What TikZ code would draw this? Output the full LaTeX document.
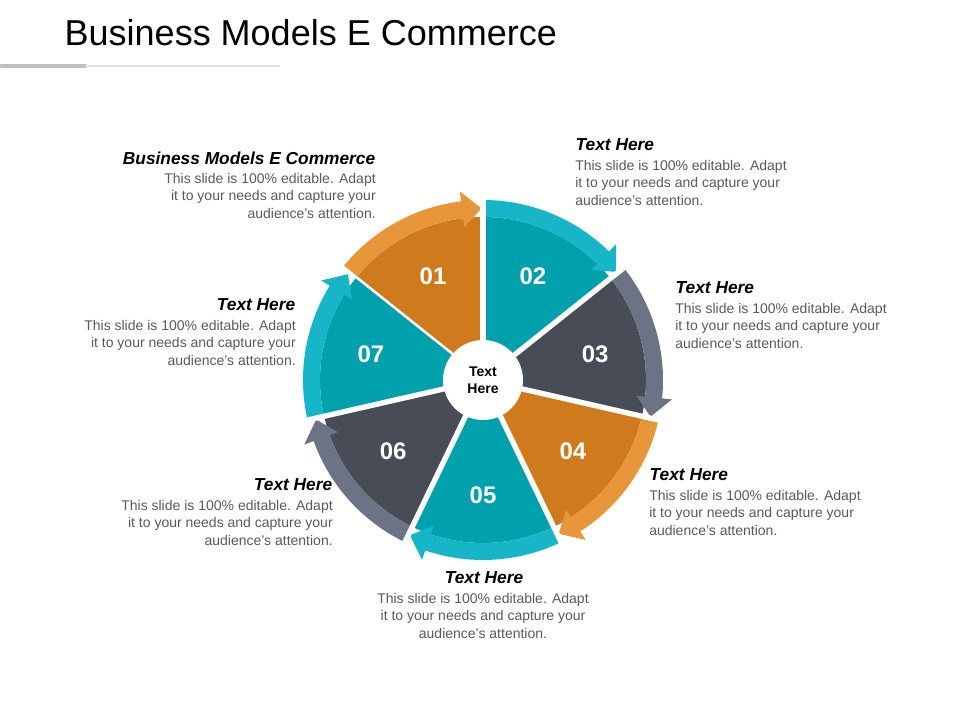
\documentclass[tikz,border=0pt]{standalone}
\usepackage{fontspec}
\setmainfont{Liberation Sans}
\usepackage{xcolor}
\definecolor{orwedge}{HTML}{D07A1E}
\definecolor{orband}{HTML}{E8963A}
\definecolor{tlwedge}{HTML}{00A0AC}
\definecolor{tlband}{HTML}{17B5C8}
\definecolor{dkwedge}{HTML}{474C56}
\definecolor{dkband}{HTML}{6B7385}
\definecolor{bodygray}{HTML}{595959}
\tikzset{
  head/.style={font=\fontsize{13}{15}\selectfont\bfseries\itshape},
  body/.style={font=\fontsize{10.5}{13.1}\selectfont, text=bodygray, inner sep=0pt},
  num/.style={font=\fontsize{18}{20}\selectfont\bfseries, text=white}
}
\begin{document}
\begin{tikzpicture}[x=0.75pt,y=0.75pt]
    \useasboundingbox (0,0) rectangle (960,720);
    \node[anchor=west, font=\fontsize{27}{30}\selectfont] (title) at (60,687) {Business Models E Commerce};
    \draw[line width=3.5pt, gray!50, line cap=round] (2,654) -- (85,654);
    \draw[line width=1.2pt, gray!25] (85,654) -- (280,654);
    \begin{scope}[shift={(483,340)}]
      \foreach \i/\wc/\bc in {1/orwedge/orband,2/tlwedge/tlband,3/dkwedge/dkband,4/orwedge/orband,5/tlwedge/tlband,6/dkwedge/dkband,7/tlwedge/tlband}{
        \pgfmathsetmacro\a{90+51.43*(2-\i)}
        \pgfmathsetmacro\b{\a-51.43}
        \pgfmathsetmacro\m{\a-25.7}
        \fill[\wc] (\a:40) -- (\a:163) arc (\a:\b:163) -- (\b:40) -- cycle;
        \fill[\bc] (\a-0.5:163) arc (\a-0.5:\b+7:163) -- (\b+7:154) -- (\b+0.5:171.5) -- (\b+7:190) -- (\b+7:180) arc (\b+7:\a-0.5:180) -- cycle;
        \draw[white, line width=4pt] (\a:30) -- (\a:200);
        \node[num] (n\i) at (\m:115) {0\i};
      }
      \fill[white] (0,0) circle (40);
      \node[font=\fontsize{10.5}{12.5}\selectfont\bfseries, align=center] (hub) at (0,0) {Text\\Here};
    \end{scope}
    \node[head, anchor=east] (h1) at (380,562) {Business Models E Commerce};
    \node[body, anchor=north east, align=right] (b1) at (376,547) {This slide is 100\% editable. Adapt\\it to your needs and capture your\\audience's attention.};
    \node[head, anchor=west] (h2) at (571,575) {Text Here};
    \node[body, anchor=north west, align=left] (b2) at (575,560) {This slide is 100\% editable. Adapt\\it to your needs and capture your\\audience's attention.};
    \node[head, anchor=west] (h3) at (671,432) {Text Here};
    \node[body, anchor=north west, align=left] (b3) at (675,417) {This slide is 100\% editable. Adapt\\it to your needs and capture your\\audience's attention.};
    \node[head, anchor=west] (h4) at (645,245) {Text Here};
    \node[body, anchor=north west, align=left] (b4) at (649,230) {This slide is 100\% editable. Adapt\\it to your needs and capture your\\audience's attention.};
    \node[head] (h5) at (484,142) {Text Here};
    \node[body, anchor=north, align=center] (b5) at (483,127) {This slide is 100\% editable. Adapt\\it to your needs and capture your\\audience's attention.};
    \node[head, anchor=east] (h6) at (337,235) {Text Here};
    \node[body, anchor=north east, align=right] (b6) at (333,220) {This slide is 100\% editable. Adapt\\it to your needs and capture your\\audience's attention.};
    \node[head, anchor=east] (h7) at (300,415) {Text Here};
    \node[body, anchor=north east, align=right] (b7) at (296,400) {This slide is 100\% editable. Adapt\\it to your needs and capture your\\audience's attention.};
\end{tikzpicture}
\end{document}
